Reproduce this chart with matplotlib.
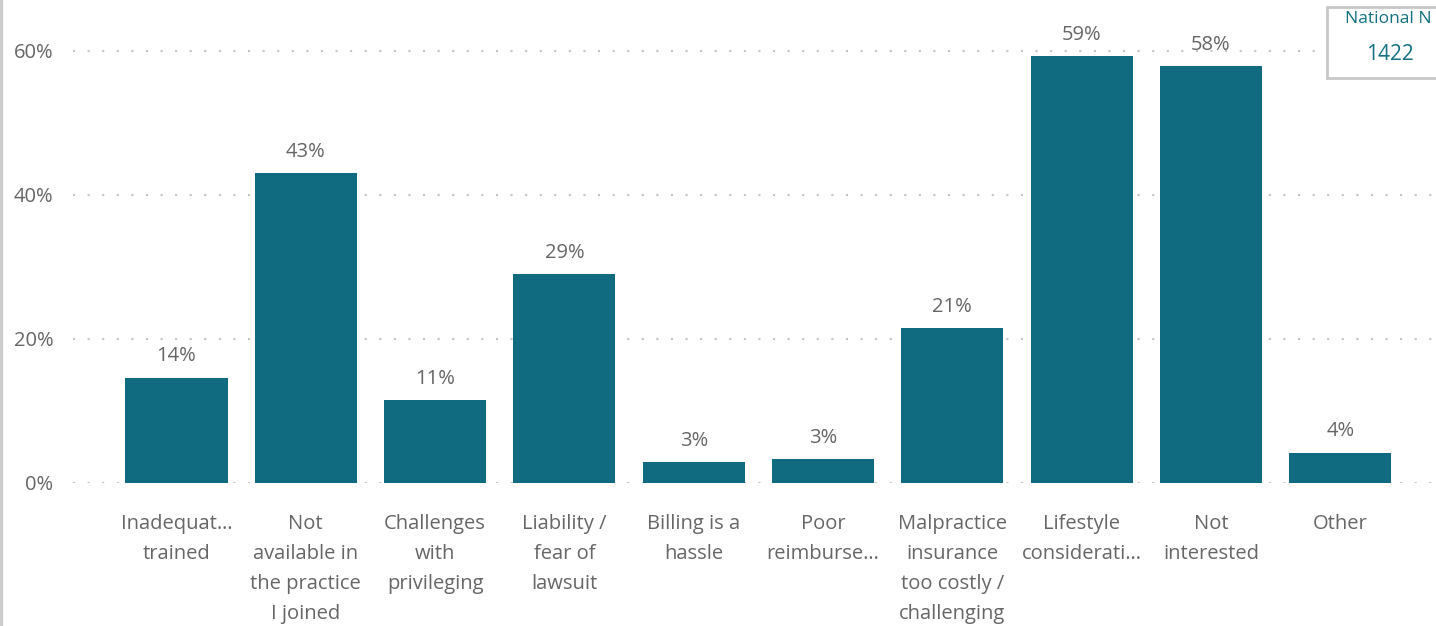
import matplotlib.pyplot as plt
import matplotlib.patches as patches
import numpy as np

categories = ["Inadequat…\ntrained", "Not\navailable in\nthe practice\nI joined",
              "Challenges\nwith\nprivileging", "Liability /\nfear of\nlawsuit",
              "Billing is a\nhassle", "Poor\nreimburse…", "Malpractice\ninsurance\ntoo costly /\nchallenging",
              "Lifestyle\nconsiderati…", "Not\ninterested", "Other"]
values = [0.146, 0.430, 0.115, 0.290, 0.029, 0.033, 0.215, 0.593, 0.579, 0.042]
value_labels = ["14%", "43%", "11%", "29%", "3%", "3%", "21%", "59%", "58%", "4%"]
yticks = [0, 0.2, 0.4, 0.6]
card_title = "National N"
card_value = "1422"

plt.rcParams['font.family'] = ['Open Sans', 'DejaVu Sans']
bar_color = "#106B80"
text_color = "#666666"

fig = plt.figure(figsize=(14.36, 6.26), dpi=100)
ax = fig.add_axes([73 / 1436, (626 - 483) / 626, 1 - 73 / 1436, 453.6 / 626])

x = np.arange(len(categories))
ax.bar(x, values, width=0.79, color=bar_color, zorder=3)
for i, (v, lab) in enumerate(zip(values, value_labels)):
    ax.text(i, v + 0.016, lab, ha='center', va='bottom', fontsize=14.5, color=text_color)

ax.set_xlim(-0.8, 9.74)
ax.set_ylim(0, 0.63)
ax.set_yticks(yticks)
ax.set_yticklabels([f"{int(t * 100)}%" for t in yticks], fontsize=14.5, color=text_color)
ax.set_xticks(x)
ax.set_xticklabels(categories, fontsize=14.5, color=text_color, linespacing=1.68, va='top')
ax.tick_params(axis='both', length=0)
ax.tick_params(axis='x', pad=22)
ax.tick_params(axis='y', pad=14)
for s in ax.spines.values():
    s.set_visible(False)
ax.yaxis.grid(True, color="#c4c4c4", linestyle=(0, (1, 6)), linewidth=1.5, zorder=0)
ax.set_axisbelow(True)

# left panel edge
fig.add_artist(plt.Line2D([0.001, 0.001], [0, 1], color="#cccccc", linewidth=2.5, transform=fig.transFigure))

# card in top-right corner
card = patches.Rectangle((1327 / 1436, (626 - 78) / 626), 0.1, 71 / 626, transform=fig.transFigure,
                         facecolor="white", edgecolor="#c8c8c8", linewidth=2, zorder=10)
fig.add_artist(card)
fig.text(1345 / 1436, (626 - 19) / 626, card_title, fontsize=12.5, color="#127080", va='center', ha='left',
         fontweight='medium', zorder=11)
fig.text(1390 / 1436, (626 - 54) / 626, card_value, fontsize=15, color="#127080", va='center', ha='center',
         zorder=11)

fig.savefig("out.png", dpi=100)
